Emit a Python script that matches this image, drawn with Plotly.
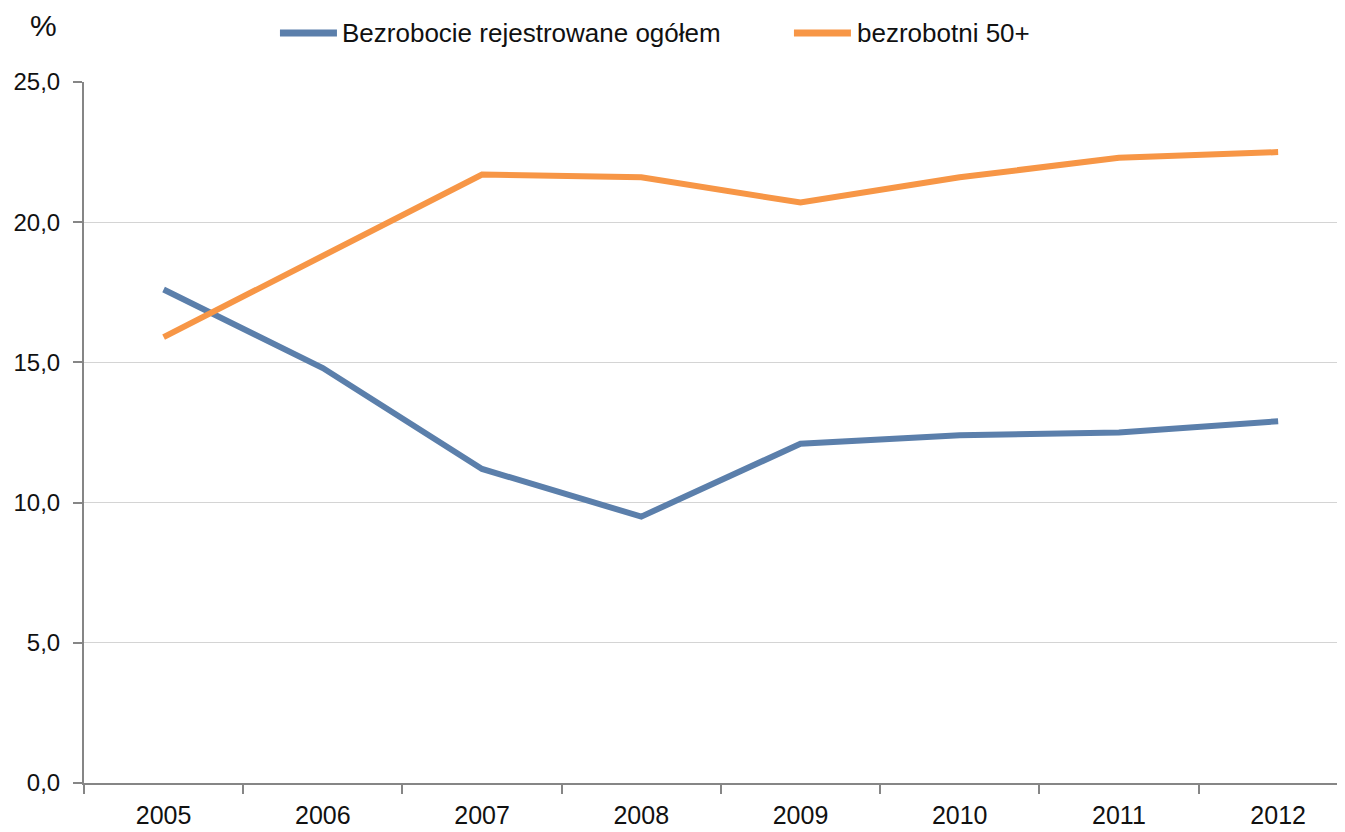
import plotly.graph_objects as go

years = [2005, 2006, 2007, 2008, 2009, 2010, 2011, 2012]
year_labels = ["2005", "2006", "2007", "2008", "2009", "2010", "2011", "2012"]
total = [17.6, 14.8, 11.2, 9.5, 12.1, 12.4, 12.5, 12.9]
age50 = [15.9, 18.8, 21.7, 21.6, 20.7, 21.6, 22.3, 22.5]
y_ticks = [0, 5, 10, 15, 20, 25]
y_tick_labels = ["0,0", "5,0", "10,0", "15,0", "20,0", "25,0"]
series_names = ["Bezrobocie rejestrowane ogółem", "bezrobotni 50+"]
series_colors = ["#5b7fab", "#f79646"]

FONT = "Liberation Sans, Arial, sans-serif"
TXT = "#111111"

fig = go.Figure()
for vals, name, col in zip([total, age50], series_names, series_colors):
    fig.add_trace(go.Scatter(x=years, y=vals, mode="lines", name=name,
                             line=dict(color=col, width=6), showlegend=False))

# manual legend (longer line samples, like the reference)
leg_x = [(0.1554, 0.2006, 0.2030), (0.5630, 0.6082, 0.6114)]
leg_y = 1.07
shapes = []
annotations = []
for (x0, x1, xt), name, col in zip(leg_x, series_names, series_colors):
    shapes.append(dict(type="line", xref="paper", yref="paper", x0=x0, x1=x1,
                       y0=leg_y, y1=leg_y, line=dict(color=col, width=7)))
    annotations.append(dict(text=name, xref="paper", yref="paper", x=xt, y=leg_y,
                            xanchor="left", yanchor="middle", showarrow=False,
                            font=dict(size=26, family=FONT, color=TXT)))
annotations.append(dict(text="%", xref="paper", yref="paper", x=-0.0325, y=1.08,
                        xanchor="center", yanchor="middle", showarrow=False,
                        font=dict(size=30, family=FONT, color=TXT)))

fig.update_layout(
    width=1337, height=824,
    margin=dict(l=76, r=0, t=74, b=49, autoexpand=False),
    paper_bgcolor="white", plot_bgcolor="white",
    font=dict(family=FONT, size=24, color=TXT),
    showlegend=False,
    shapes=shapes, annotations=annotations,
)

fig.update_xaxes(
    range=[2004.5, 2012.42],
    tickmode="array", tickvals=years, ticktext=year_labels, tickangle=0,
    ticks="", showgrid=False, zeroline=False,
    showline=True, linecolor="#868686", linewidth=2,
    tickfont=dict(size=25), ticklabelstandoff=9,
    minor=dict(tickmode="linear", tick0=2004.5, dtick=1, ticks="outside", ticklen=9,
               tickcolor="#868686", tickwidth=2, showgrid=False),
)
fig.update_yaxes(
    range=[0, 25],
    tickmode="array", tickvals=y_ticks, ticktext=y_tick_labels,
    ticks="outside", ticklen=9, tickcolor="#868686", tickwidth=2,
    showgrid=True, gridcolor="#d4d4d4", gridwidth=1,
    zeroline=False, showline=True, linecolor="#868686", linewidth=2,
    tickfont=dict(size=24), ticklabelstandoff=8,
)

fig.write_html("out.html")
